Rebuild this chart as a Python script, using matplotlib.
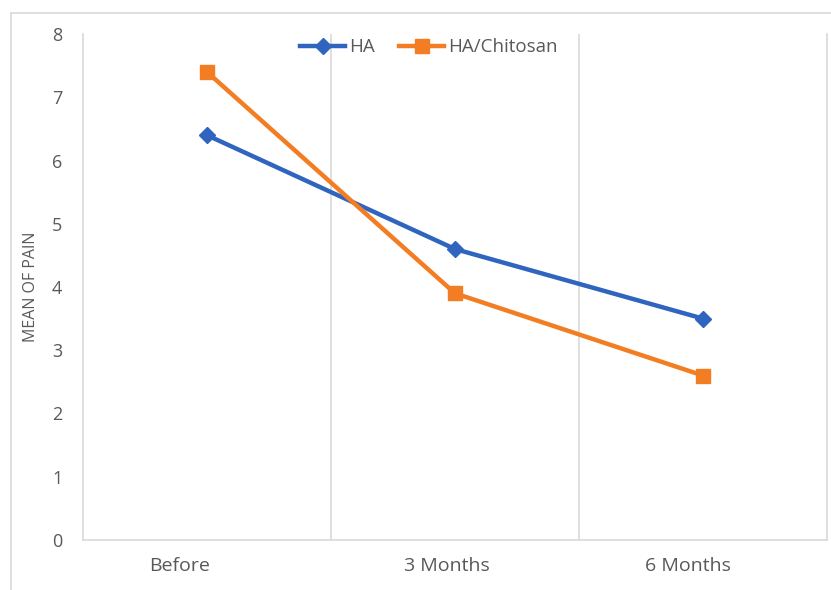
import matplotlib.pyplot as plt
from matplotlib.transforms import ScaledTranslation
import numpy as np

categories = ['Before', '3 Months', '6 Months']
ha = [6.4, 4.6, 3.5]
ha_chitosan = [7.4, 3.9, 2.6]
yticks = [0, 1, 2, 3, 4, 5, 6, 7, 8]

plt.rcParams['font.family'] = ['Open Sans', 'DejaVu Sans']
grey = '#595959'
gridc = '#d9d9d9'

fig = plt.figure(figsize=(8.31, 5.90), dpi=100)
ax = fig.add_axes([83 / 831, 50 / 590, 744 / 831, 506 / 590])

x = np.arange(len(categories))
ax.plot(x, ha, color='#2F64BF', lw=3.2, marker='D', ms=8, label='HA', zorder=3)
ax.plot(x, ha_chitosan, color='#F37D22', lw=3.2, marker='s', ms=10, label='HA/Chitosan', zorder=3)

ax.set_xlim(-0.5, 2.5)
ax.set_ylim(0, 8)
ax.set_yticks(yticks)
ax.set_xticks(x)
ax.set_xticklabels(categories)

# vertical lines between categories
for b in [0.5, 1.5]:
    ax.axvline(b, color=gridc, lw=1.2, zorder=1)

for side in ['left', 'bottom', 'right']:
    ax.spines[side].set_color(gridc)
    ax.spines[side].set_linewidth(1.2)
ax.spines['top'].set_visible(False)

ax.tick_params(axis='both', length=0, colors=grey)
ax.tick_params(axis='y', pad=15, labelsize=13)
ax.tick_params(axis='x', pad=12, labelsize=14)
for lbl, dx in zip(ax.get_xticklabels(), [-27, -8, -15]):
    lbl.set_transform(lbl.get_transform() + ScaledTranslation(dx / 100, 0, fig.dpi_scale_trans))

ax.set_ylabel('MEAN OF PAIN', color=grey, fontsize=11.5, labelpad=9)

ax.legend(loc='upper center', bbox_to_anchor=(0.465, 1.025), ncol=2, frameon=False,
          fontsize=13.5, labelcolor=grey, handlelength=2.4, handletextpad=0.2,
          columnspacing=1.3)

# outer chart border
fig.add_artist(plt.Line2D([11 / 831, 11 / 831], [0, 1 - 13 / 590], color=gridc, lw=1.2))
fig.add_artist(plt.Line2D([11 / 831, 1], [1 - 13 / 590, 1 - 13 / 590], color=gridc, lw=1.2))

fig.savefig('out.png', dpi=100)
